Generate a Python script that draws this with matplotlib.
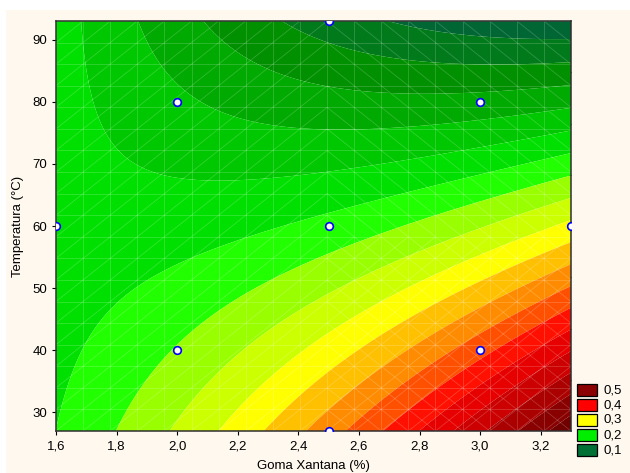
import numpy as np
import matplotlib
matplotlib.use("Agg")
import matplotlib.pyplot as plt
from matplotlib.colors import ListedColormap, BoundaryNorm
from matplotlib.collections import LineCollection
from matplotlib.patches import Rectangle

plt.rcParams['font.family'] = ['Liberation Sans', 'DejaVu Sans']

# ---- data ----
# experimental design points (Goma Xantana %, Temperatura °C)
design_x = [2.0, 3.0, 2.0, 3.0, 1.6, 3.3, 2.5, 2.5, 2.5]
design_y = [40, 40, 80, 80, 60, 60, 27, 93, 60]

# fitted quadratic response surface, coded units u=(x-2.5)/0.5, v=(y-60)/20
coef_terms = ["b0", "u", "v", "u2", "v2", "uv"]
coef_values = [0.208, 0.0296, -0.0762, 0.0103, 0.002, -0.0401]

x_range = [1.6, 3.3]
y_range = [27, 93]

levels = [-1.0, 0.075, 0.1, 0.125, 0.15, 0.175, 0.2, 0.225, 0.25, 0.275, 0.3,
          0.325, 0.35, 0.375, 0.4, 0.425, 0.45, 0.475, 0.5, 2.0]
band_colors = ['#006633', '#007A1A', '#009000', '#00AA00', '#00C800', '#00E000',
               '#22FF00', '#99FF00', '#CCFF00', '#FFFF00', '#FFC000', '#FF8C00',
               '#FF5000', '#FF1000', '#E60000', '#CC0000', '#AA0000', '#880000',
               '#700000']

legend_labels = ['0,5', '0,4', '0,3', '0,2', '0,1']
legend_colors = ['#8B0000', '#FF0000', '#FFFF00', '#00EE00', '#007035']

xticks = [1.6, 1.8, 2.0, 2.2, 2.4, 2.6, 2.8, 3.0, 3.2]
yticks = [30, 40, 50, 60, 70, 80, 90]

# ---- figure ----
W, H = 630, 473
fig = plt.figure(figsize=(W / 100, H / 100), dpi=100)
fig.patch.set_facecolor('white')
fig.patches.append(Rectangle((6 / W, 0), 1, 1 - 10 / H, transform=fig.transFigure,
                             facecolor='#FFF8EE', edgecolor='none', zorder=-10))

ax = fig.add_axes([56 / W, 1 - 431 / H, 515 / W, 410 / H])

xs = np.linspace(x_range[0], x_range[1], 300)
ys = np.linspace(y_range[0], y_range[1], 300)
X, Y = np.meshgrid(xs, ys)
U = (X - 2.5) / 0.5
V = (Y - 60) / 20
terms = [np.ones_like(U), U, V, U ** 2, V ** 2, U * V]
Z = sum(c * t for c, t in zip(coef_values, terms))

cmap = ListedColormap(band_colors)
norm = BoundaryNorm(levels, cmap.N)
ax.contourf(X, Y, Z, levels=levels, cmap=cmap, norm=norm, antialiased=True)

# triangulated mesh overlay
gx = np.linspace(x_range[0], x_range[1], 20)
gy = np.linspace(y_range[0], y_range[1], 20)
segs = []
for x in gx:
    segs.append([(x, gy[0]), (x, gy[-1])])
for y in gy:
    segs.append([(gx[0], y), (gx[-1], y)])
for i in range(19):
    for j in range(19):
        cx = (gx[i] + gx[i + 1]) / 2
        cy = (gy[j] + gy[j + 1]) / 2
        if cx < 2.5:
            segs.append([(gx[i], gy[j]), (gx[i + 1], gy[j + 1])])
        else:
            segs.append([(gx[i], gy[j + 1]), (gx[i + 1], gy[j])])
            if cy < 60:
                segs.append([(gx[i], gy[j]), (gx[i + 1], gy[j + 1])])
ax.add_collection(LineCollection(segs, colors='white', linewidths=0.6, alpha=0.2, zorder=2))

ax.plot(design_x, design_y, 'o', ms=5.5, mfc='white', mec='#0000FF', mew=1.2,
        clip_on=True, zorder=5)

ax.set_xlim(x_range)
ax.set_ylim(y_range)
ax.set_xticks(xticks)
ax.set_xticklabels([f"{t:.1f}".replace('.', ',') for t in xticks])
ax.set_yticks(yticks)
ax.set_yticklabels([str(t) for t in yticks])
ax.tick_params(axis='x', direction='out', length=3, width=0.8, labelsize=9.5, pad=4)
ax.tick_params(axis='y', direction='out', length=3, width=0.8, labelsize=9.5, pad=3.5)
for s in ax.spines.values():
    s.set_color('#303030')
    s.set_linewidth(1.1)

secx = ax.secondary_xaxis('top')
secx.set_xticks(list(np.linspace(x_range[0], x_range[1], 11)[1:-1]))
secx.tick_params(direction='in', length=3, width=0.8, labeltop=False)
secx.spines['top'].set_visible(False)
secy = ax.secondary_yaxis('right')
secy.set_yticks(list(np.linspace(y_range[0], y_range[1], 9)[1:-1]))
secy.tick_params(direction='in', length=3, width=0.8, labelright=False)
secy.spines['right'].set_visible(False)

fig.text(313.5 / W, 1 - 466 / H, 'Goma Xantana (%)', ha='center', va='center', fontsize=9.5)
fig.text(18 / W, 1 - 226 / H, 'Temperatura (°C)', ha='center', va='center',
         rotation=90, fontsize=9.5)

# legend
tops = [384, 399, 414, 429, 444]
for top, lab, col in zip(tops, legend_labels, legend_colors):
    fig.patches.append(Rectangle((577 / W, 1 - (top + 12) / H), 20 / W, 12 / H,
                                 transform=fig.transFigure, facecolor=col,
                                 edgecolor='black', linewidth=0.9, zorder=5))
    fig.text(603 / W, 1 - (top + 6) / H, lab, ha='left', va='center', fontsize=9.5)

fig.savefig('out.png', dpi=100)
